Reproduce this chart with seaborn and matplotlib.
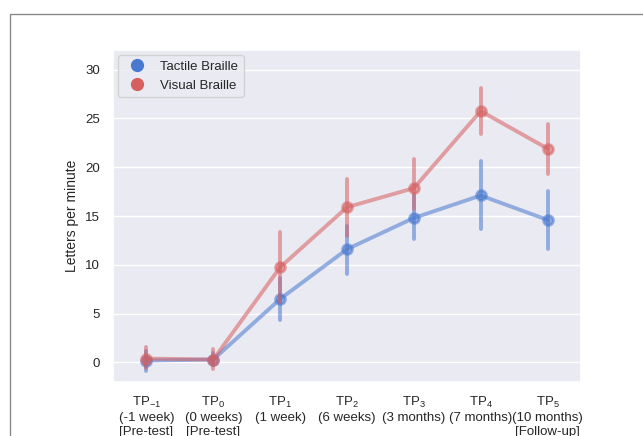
import numpy as np
import pandas as pd
import matplotlib
matplotlib.use("Agg")
import matplotlib.pyplot as plt
from matplotlib.patches import Rectangle
from matplotlib.lines import Line2D
import seaborn as sns

# Time points (x axis labels)
timepoints = [
    "TP$_{-1}$\n(-1 week)\n[Pre-test]",
    "TP$_0$\n(0 weeks)\n[Pre-test]",
    "TP$_1$\n(1 week)",
    "TP$_2$\n(6 weeks)",
    "TP$_3$\n(3 months)",
    "TP$_4$\n(7 months)",
    "TP$_5$\n(10 months)\n[Follow-up]",
]
groups = ["Tactile Braille", "Visual Braille"]

# Reading speed (letters per minute): centre value and interval bounds
tactile_mean = [0.2, 0.3, 6.5, 11.6, 14.8, 17.1, 14.6]
tactile_low = [-0.9, -0.3, 4.4, 9.1, 12.6, 13.7, 11.6]
tactile_high = [1.2, 1.0, 8.7, 14.0, 17.1, 20.6, 17.6]

visual_mean = [0.4, 0.3, 9.75, 15.9, 17.85, 25.75, 21.9]
visual_low = [-0.6, -0.7, 6.2, 13.0, 15.7, 23.4, 19.3]
visual_high = [1.6, 1.4, 13.4, 18.8, 20.8, 28.1, 24.4]

sns.set_theme(style="darkgrid")
plt.rcParams["font.family"] = ["Liberation Sans", "DejaVu Sans"]
plt.rcParams["mathtext.fontset"] = "custom"
plt.rcParams["mathtext.rm"] = "Liberation Sans"
plt.rcParams["mathtext.it"] = "Liberation Sans:italic"
plt.rcParams["mathtext.default"] = "regular"

FS = 9.5

# Long table: low / centre / high per point; median gives the centre,
# the full percentile interval gives the bounds.
rows = []
for g, lo, mid, hi in [
    (groups[0], tactile_low, tactile_mean, tactile_high),
    (groups[1], visual_low, visual_mean, visual_high),
]:
    for tp, a, b, c in zip(timepoints, lo, mid, hi):
        for v in (a, b, c):
            rows.append({"Time point": tp, "Group": g, "Letters per minute": v})
df = pd.DataFrame(rows)

palette = {groups[0]: "#4878d0", groups[1]: "#d65f5f"}

fig = plt.figure(figsize=(6.43, 4.36), dpi=100)
ax = fig.add_axes([113 / 643, 54 / 436, 468 / 643, 332 / 436])

sns.pointplot(
    data=df, x="Time point", y="Letters per minute", hue="Group",
    hue_order=groups, order=timepoints, palette=palette,
    estimator="median", errorbar=("pi", 100),
    markersize=7, linewidth=2.8, err_kws={"linewidth": 2.8},
    ax=ax, legend=False,
)
for ln in ax.lines:
    ln.set_alpha(0.55)

ax.set_ylim(-2, 32)
ax.set_yticks([0, 5, 10, 15, 20, 25, 30])
ax.set_xlabel("")
ax.set_ylabel("Letters per minute", fontsize=FS + 0.5)
ax.tick_params(axis="both", labelsize=FS, colors="#262626")

handles = [
    Line2D([], [], marker="o", linestyle="", markersize=8.5,
           color=palette[g], label=g)
    for g in groups
]
ax.legend(handles=handles, loc="upper left", fontsize=FS,
          frameon=True, borderaxespad=0.4, handletextpad=0.8)

# Outer frame line
fig.patches.append(Rectangle((10 / 643, -0.2), 1.5, 1.2 - 14 / 436,
                             transform=fig.transFigure, fill=False,
                             edgecolor="#8a8a8a", linewidth=1.0,
                             clip_on=False))

fig.savefig("out.png", dpi=100, facecolor="white")
